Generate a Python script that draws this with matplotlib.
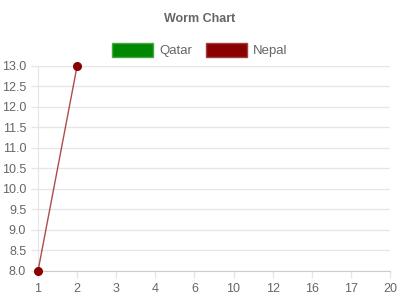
import matplotlib
matplotlib.use('Agg')
from matplotlib import pyplot as plt
from matplotlib.patches import Patch

### Data ###
labels = ['1', '2', '3', '4', '6', '10', '12', '16', '17', '20']
qatar = []
nepal = [8.0, 13.0]
############

plt.rcParams['font.family'] = ['Liberation Sans', 'DejaVu Sans']
txt = '#666666'
grid = '#e6e6e6'

fig = plt.figure(figsize=(4, 3), dpi=100)
ax = fig.add_axes((0.095, 0.0967, 0.88, 0.6833))

x = list(range(len(labels)))
ax.plot(x[:len(nepal)], nepal, color='#8b0000', alpha=0.7, lw=1,
        zorder=3, clip_on=False)
ax.plot(x[:len(nepal)], nepal, 'o', color='#8b0000', ms=5.5, mec='#8b0000',
        zorder=4, clip_on=False)

ax.set_xlim(0, len(labels) - 1)
ax.set_ylim(8, 13)
ax.set_xticks(x)
ax.set_xticklabels(labels)
ax.set_yticks([8 + 0.5 * i for i in range(11)])
ax.set_yticklabels([f'{8 + 0.5 * i:.1f}' for i in range(11)])

ax.grid(axis='y', color=grid, lw=1)
ax.set_axisbelow(True)
for s in ['top', 'right']:
    ax.spines[s].set_visible(False)
ax.spines['left'].set_color(grid)
ax.spines['bottom'].set_color('#cccccc')
ax.tick_params(colors=grid, labelcolor=txt, labelsize=9, length=5, width=1)

fig.suptitle('Worm Chart', y=0.955, fontsize=9, fontweight='bold', color=txt)

handles = [Patch(facecolor='#008800', edgecolor='#44aa44', lw=1),
           Patch(facecolor='#8b0000', edgecolor='#a04040', lw=1)]
fig.legend(handles, ['Qatar', 'Nepal'], loc='center', bbox_to_anchor=(0.5, 0.833),
           ncol=2, frameon=False, fontsize=9.5, labelcolor=txt,
           handlelength=3.1, handleheight=1.2, handletextpad=0.5, columnspacing=1.0)

fig.savefig('out.png', dpi=100)
